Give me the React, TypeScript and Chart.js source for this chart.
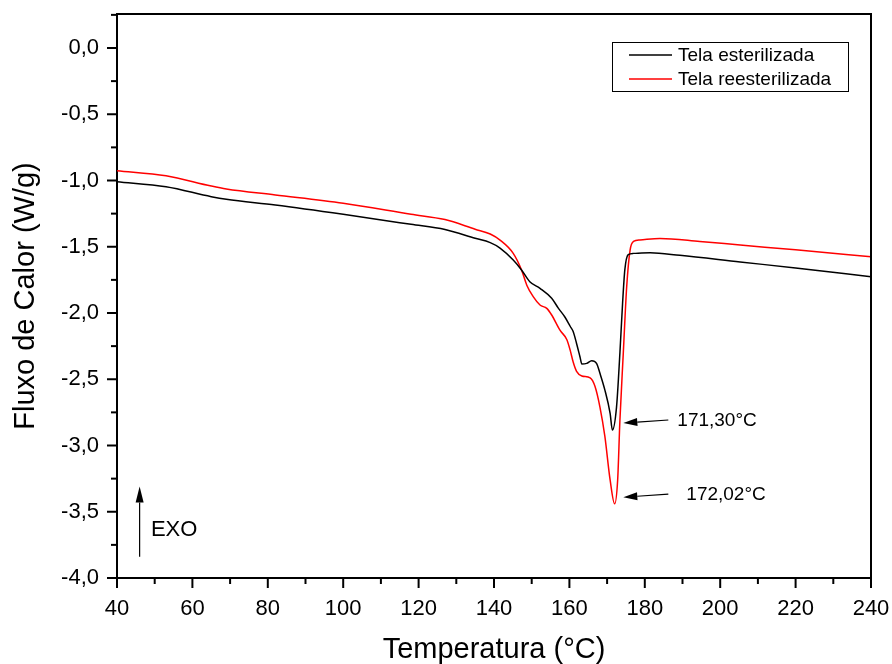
import React, { useEffect, useRef } from "react";
import { Chart, registerables } from "chart.js";

Chart.register(...registerables);

// ---- data ----
const X_TICKS = [40, 60, 80, 100, 120, 140, 160, 180, 200, 220, 240];
const Y_TICKS = [-4.0, -3.5, -3.0, -2.5, -2.0, -1.5, -1.0, -0.5, 0.0];

const LABEL_A = "Tela esterilizada";
const TEMP_A = [40, 53, 65, 69, 82, 100, 118, 127, 135, 139, 141.6, 145.1, 147.3, 149.5, 152.2, 155.3, 157.1, 158.8, 160.2, 161.0, 161.9, 162.8, 163.3, 164.6, 165.9, 167.2, 168.1, 169.4, 170.8, 171.4, 172.5, 173.4, 174.1, 174.7, 175.6, 177, 181.4, 189.3, 205.3, 220, 240];
const FLOW_A = [-1.009, -1.047, -1.122, -1.142, -1.185, -1.255, -1.331, -1.37, -1.436, -1.469, -1.51, -1.6, -1.675, -1.764, -1.814, -1.889, -1.965, -2.03, -2.1, -2.14, -2.23, -2.33, -2.385, -2.38, -2.36, -2.38, -2.455, -2.58, -2.757, -2.883, -2.71, -2.3, -1.93, -1.675, -1.56, -1.55, -1.545, -1.565, -1.615, -1.66, -1.726];

const LABEL_B = "Tela reesterilizada";
const TEMP_B = [40, 53, 65, 69, 82, 100, 118, 127, 135, 139, 141.6, 145.1, 147.3, 148.7, 150.4, 152.2, 154.0, 155.3, 157.5, 159.3, 160.2, 161.0, 161.9, 163.3, 165.5, 166.8, 168.1, 169.4, 170.8, 172.0, 172.8, 173.4, 174.3, 175.2, 176.1, 177.0, 178.7, 184, 194.6, 205.3, 220, 240];
const FLOW_B = [-0.926, -0.964, -1.042, -1.064, -1.109, -1.172, -1.255, -1.295, -1.368, -1.404, -1.45, -1.55, -1.675, -1.79, -1.877, -1.94, -1.965, -2.015, -2.13, -2.2, -2.28, -2.37, -2.44, -2.475, -2.49, -2.555, -2.71, -2.93, -3.26, -3.44, -3.26, -2.81, -2.3, -1.8, -1.525, -1.46, -1.449, -1.437, -1.46, -1.487, -1.523, -1.575];

const PEAK_LABELS = ["171,30°C", "172,02°C"];
const PEAK_TIPS = [
  [174.3, -2.83],
  [174.3, -3.39],
];
const EXO_TEXT = "EXO";

const FONT = "'Liberation Sans', Arial, Helvetica, sans-serif";
const fmt = (v: number) => v.toFixed(1).replace(".", ",");

function arrow(ctx: CanvasRenderingContext2D, x1: number, y1: number, x2: number, y2: number, headLen: number, headW: number) {
  const ang = Math.atan2(y2 - y1, x2 - x1);
  const bx = x2 - headLen * Math.cos(ang);
  const by = y2 - headLen * Math.sin(ang);
  ctx.beginPath();
  ctx.moveTo(x1, y1);
  ctx.lineTo(bx, by);
  ctx.stroke();
  ctx.beginPath();
  ctx.moveTo(x2, y2);
  ctx.lineTo(bx + headW * Math.sin(ang), by - headW * Math.cos(ang));
  ctx.lineTo(bx - headW * Math.sin(ang), by + headW * Math.cos(ang));
  ctx.closePath();
  ctx.fill();
}

const zeroPad = (s: any) => {
  s.paddingTop = 0;
  s.paddingBottom = 0;
  s.paddingLeft = 0;
  s.paddingRight = 0;
};

const decorPlugin = {
  id: "decor",
  afterDraw(chart: any) {
    const ctx: CanvasRenderingContext2D = chart.ctx;
    const { left, right, top, bottom } = chart.chartArea;
    const xs = chart.scales.x;
    const ys = chart.scales.y;
    ctx.save();
    ctx.strokeStyle = "#000";
    ctx.fillStyle = "#000";
    // frame top/right
    ctx.lineWidth = 2;
    ctx.beginPath();
    ctx.moveTo(left, top);
    ctx.lineTo(right, top);
    ctx.lineTo(right, bottom);
    ctx.stroke();
    // ticks
    ctx.lineWidth = 2;
    const majLen = 10, minLen = 6;
    X_TICKS.forEach((v, i) => {
      const px = xs.getPixelForValue(v);
      ctx.beginPath(); ctx.moveTo(px, bottom); ctx.lineTo(px, bottom + majLen); ctx.stroke();
      if (i < X_TICKS.length - 1) {
        const m = xs.getPixelForValue((v + X_TICKS[i + 1]) / 2);
        ctx.beginPath(); ctx.moveTo(m, bottom); ctx.lineTo(m, bottom + minLen); ctx.stroke();
      }
    });
    Y_TICKS.forEach((v, i) => {
      const py = ys.getPixelForValue(v);
      ctx.beginPath(); ctx.moveTo(left, py); ctx.lineTo(left - majLen, py); ctx.stroke();
      if (i < Y_TICKS.length - 1) {
        const m = ys.getPixelForValue((v + Y_TICKS[i + 1]) / 2);
        ctx.beginPath(); ctx.moveTo(left, m); ctx.lineTo(left - minLen, m); ctx.stroke();
      }
    });
    const lastMinor = ys.getPixelForValue(Y_TICKS[Y_TICKS.length - 1] + 0.25);
    ctx.beginPath(); ctx.moveTo(left, lastMinor); ctx.lineTo(left - minLen, lastMinor); ctx.stroke();

    // legend
    const lx = right - 259, ly = top + 28, lw = 236, lh = 49;
    ctx.lineWidth = 1;
    ctx.strokeRect(lx + 0.5, ly + 0.5, lw, lh);
    ctx.font = `19px ${FONT}`;
    ctx.textBaseline = "middle";
    ctx.textAlign = "left";
    chart.data.datasets.forEach((ds: any, i: number) => {
      const yy = ly + 13 + i * 24;
      ctx.strokeStyle = ds.borderColor;
      ctx.lineWidth = 1.5;
      ctx.beginPath(); ctx.moveTo(lx + 17, yy); ctx.lineTo(lx + 60, yy); ctx.stroke();
      ctx.fillStyle = "#000";
      ctx.fillText(ds.label, lx + 66, yy + 1);
    });

    // peak annotations
    ctx.strokeStyle = "#000";
    ctx.fillStyle = "#000";
    ctx.lineWidth = 1.2;
    PEAK_TIPS.forEach(([t, v], i) => {
      const tx = xs.getPixelForValue(t);
      const ty = ys.getPixelForValue(v);
      arrow(ctx, tx + 45, ty - 3, tx, ty, 14, 4);
      ctx.font = `19px ${FONT}`;
      ctx.textBaseline = "middle";
      ctx.fillText(PEAK_LABELS[i], tx + 54 + i * 9, ty - 2);
    });

    // EXO arrow
    const ex = xs.getPixelForValue(46);
    arrow(ctx, ex, ys.getPixelForValue(-3.84), ex, ys.getPixelForValue(-3.31), 16, 4);
    ctx.font = `22px ${FONT}`;
    ctx.textBaseline = "middle";
    ctx.fillText(EXO_TEXT, xs.getPixelForValue(49), ys.getPixelForValue(-3.64));
    ctx.restore();
  },
};

export default function App() {
  const ref = useRef<HTMLCanvasElement | null>(null);
  useEffect(() => {
    if (!ref.current) return;
    const chart = new Chart(ref.current, {
      type: "line",
      data: {
        datasets: [
          {
            label: LABEL_A,
            data: TEMP_A.map((t, i) => ({ x: t, y: FLOW_A[i] })),
            borderColor: "#000000",
            borderWidth: 1.5,
            pointRadius: 0,
            cubicInterpolationMode: "monotone",
            fill: false,
          },
          {
            label: LABEL_B,
            data: TEMP_B.map((t, i) => ({ x: t, y: FLOW_B[i] })),
            borderColor: "#ff0000",
            borderWidth: 1.5,
            pointRadius: 0,
            cubicInterpolationMode: "monotone",
            fill: false,
          },
        ],
      },
      options: {
        animation: false,
        responsive: false,
        layout: { padding: { left: 0, top: 14, right: 21, bottom: 0 } },
        plugins: { legend: { display: false }, tooltip: { enabled: false } },
        scales: {
          x: {
            type: "linear",
            min: 40,
            max: 240,
            grid: { display: false, drawTicks: false },
            border: { display: true, color: "#000", width: 2 },
            afterBuildTicks: (s: any) => { s.ticks = X_TICKS.map((v) => ({ value: v })); },
            afterFit: (s: any) => { s.height = 86; zeroPad(s); },
            ticks: { color: "#000", font: { family: FONT, size: 22 }, padding: 18, maxRotation: 0, autoSkip: false, callback: (v: any) => String(v) },
            title: { display: true, text: "Temperatura (°C)", color: "#000", font: { family: FONT, size: 29, lineHeight: 1 }, padding: 0 },
          },
          y: {
            type: "linear",
            min: -4,
            max: 0.2566,
            grid: { display: false, drawTicks: false },
            border: { display: true, color: "#000", width: 2 },
            afterBuildTicks: (s: any) => { s.ticks = Y_TICKS.map((v) => ({ value: v })); },
            afterFit: (s: any) => { s.width = 117; zeroPad(s); },
            ticks: { color: "#000", font: { family: FONT, size: 22 }, padding: 18, autoSkip: false, callback: (v: any) => fmt(Number(v)) },
            title: { display: true, text: "Fluxo de Calor (W/g)", color: "#000", font: { family: FONT, size: 29, lineHeight: 1 }, padding: { top: 11, bottom: 0 } },
          },
        },
      },
      plugins: [decorPlugin],
    } as any);
    return () => chart.destroy();
  }, []);
  return (
    <div style={{ position: "absolute", left: 0, top: 0, width: 892, height: 664, background: "#fff" }}>
      <canvas ref={ref} width={892} height={664} style={{ display: "block" }} />
    </div>
  );
}
